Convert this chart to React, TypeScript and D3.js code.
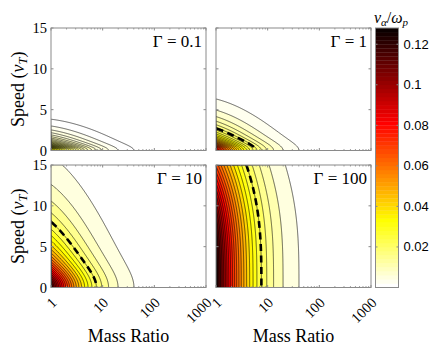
import * as d3 from "d3";
import { useMemo } from "react";

const W = 436;
const H = 347;

// panels, left to right, top to bottom
const gammaLabels = ["0.1", "1", "10", "100"];
const peakRate = [0.035, 0.085, 0.118, 0.128];
const tailSlope = [0.84, 0.51, 0.2, 0.078];
const coreWidth = [0.5, 0.8, 2.0, 20];
const coreOrder = [1, 1, 1, 2];
const massSpread = [0.1, 0.08, 0.08, 0];
const dashFraction = [null, 0.25, 0.2, 0.2];
const massOffset = 0.64;
const levelCount = 24;

const massTicks = [1, 10, 100, 1000];
const speedTicks = [0, 5, 10, 15];
const colorTicks = [0.02, 0.04, 0.06, 0.08, 0.1, 0.12];
const colorMax = 0.128;

const colX = [51, 216];
const rowY = [28, 165];
const pw = 155;
const ph = 122.5;
const nx = 311;
const ny = 246;

const serif = "Liberation Serif, DejaVu Serif, Times New Roman, serif";
const sans = "Liberation Sans, DejaVu Sans, Arial, sans-serif";

// flipped MATLAB hot(64)
function hotColor(value: number) {
  const n = 64;
  const k = Math.max(0, Math.min(n - 1, Math.floor((value / colorMax) * n)));
  const i = n - k;
  const r = Math.min(1, i / 24);
  const g = Math.max(0, Math.min(1, (i - 24) / 24));
  const b = Math.max(0, Math.min(1, (i - 48) / 16));
  return d3.rgb(r * 255, g * 255, b * 255).formatHex();
}

function rate(p: number, u: number, v: number) {
  const m = Math.pow(10, u);
  const x = v * Math.pow(m, -massSpread[p]);
  const g = tailSlope[p] * x * Math.tanh(Math.pow(x / coreWidth[p], coreOrder[p]));
  return (peakRate[p] * (1 + massOffset)) / (m + massOffset) * Math.exp(-g);
}

function interiorLines(rings: number[][][]) {
  const onEdge = (q: number[]) => q[0] <= 0 || q[0] >= nx || q[1] <= 0 || q[1] >= ny;
  const lines: number[][][] = [];
  for (const ring of rings) {
    let cur: number[][] | null = null;
    for (let i = 1; i < ring.length; i++) {
      const a = ring[i - 1];
      const b = ring[i];
      if (onEdge(a) && onEdge(b)) {
        if (cur) lines.push(cur);
        cur = null;
        continue;
      }
      if (!cur) cur = [a];
      cur.push(b);
    }
    if (cur) lines.push(cur);
  }
  return lines;
}

function Panel({ idx }: { idx: number }) {
  const col = idx % 2;
  const row = Math.floor(idx / 2);
  const x0 = colX[col];
  const y0 = rowY[row];
  const uMax = Math.log10(massTicks[massTicks.length - 1]);
  const vMax = speedTicks[speedTicks.length - 1];

  const gx = d3.scaleLinear().domain([0.5, nx - 0.5]).range([x0, x0 + pw]);
  const gy = d3.scaleLinear().domain([0.5, ny - 0.5]).range([y0 + ph, y0]);
  const xLog = d3.scaleLog().domain([1, 1000]).range([x0, x0 + pw]);
  const yLin = d3.scaleLinear().domain([0, vMax]).range([y0 + ph, y0]);

  const chart = useMemo(() => {
    const values = new Array(nx * ny);
    for (let j = 0; j < ny; j++) {
      for (let i = 0; i < nx; i++) {
        values[j * nx + i] = rate(idx, (uMax * i) / (nx - 1), (vMax * j) / (ny - 1));
      }
    }
    const zmax = d3.max(values) as number;
    const levels = d3.range(1, levelCount + 1).map((k) => (zmax * k) / (levelCount + 1));
    const gen = d3.contours().size([nx, ny]).thresholds(levels);
    const polys = gen(values);
    const proj = d3.geoTransform({
      point(x: number, y: number) {
        this.stream.point(gx(x), gy(y));
      },
    });
    const path = d3.geoPath(proj);
    const bands = polys.map((c) => ({ d: path(c) || "", color: hotColor(c.value) }));
    let dash: string[] = [];
    const frac = dashFraction[idx];
    if (frac !== null) {
      const c = gen.contour(values, zmax * frac);
      const rings = c.coordinates.flat() as number[][][];
      const line = d3
        .line<number[]>()
        .x((q) => gx(q[0]))
        .y((q) => gy(q[1]));
      dash = interiorLines(rings).map((l) => line(l) || "");
    }
    return { bands, dash };
  }, [idx]);

  const minor: number[] = [];
  for (const d of [1, 10, 100]) for (let k = 2; k < 10; k++) minor.push(d * k);
  const clipId = `clip${idx}`;
  const frame = "#8a8a8a";

  return (
    <g>
      <clipPath id={clipId}>
        <rect x={x0} y={y0} width={pw} height={ph} />
      </clipPath>
      <g clipPath={`url(#${clipId})`}>
        <rect x={x0} y={y0} width={pw} height={ph} fill={hotColor(0)} />
        {chart.bands.map((b, i) => (
          <path key={"f" + i} d={b.d} fill={b.color} stroke="none" />
        ))}
        {chart.bands.map((b, i) => (
          <path key={"s" + i} d={b.d} fill="none" stroke="#000" strokeWidth={0.6} />
        ))}
        {chart.dash.map((d, i) => (
          <path key={"d" + i} d={d} fill="none" stroke="#000" strokeWidth={2.6} strokeDasharray="7,4.5" />
        ))}
      </g>
      {massTicks.map((t) => (
        <g key={"mx" + t}>
          <line x1={xLog(t)} x2={xLog(t)} y1={y0 + ph} y2={y0 + ph - 2.5} stroke={frame} />
          <line x1={xLog(t)} x2={xLog(t)} y1={y0} y2={y0 + 2.5} stroke={frame} />
        </g>
      ))}
      {minor.map((t) => (
        <g key={"mn" + t}>
          <line x1={xLog(t)} x2={xLog(t)} y1={y0 + ph} y2={y0 + ph - 1.5} stroke={frame} strokeWidth={0.8} />
          <line x1={xLog(t)} x2={xLog(t)} y1={y0} y2={y0 + 1.5} stroke={frame} strokeWidth={0.8} />
        </g>
      ))}
      {speedTicks.map((t) => (
        <g key={"y" + t}>
          <line x1={x0} x2={x0 + 2.5} y1={yLin(t)} y2={yLin(t)} stroke={frame} />
          <line x1={x0 + pw} x2={x0 + pw - 2.5} y1={yLin(t)} y2={yLin(t)} stroke={frame} />
        </g>
      ))}
      <rect x={x0} y={y0} width={pw} height={ph} fill="none" stroke={frame} strokeWidth={1} />
      <text x={x0 + pw - 4} y={y0 + 18.5} textAnchor="end" style={{ fontFamily: serif }} fontSize={17}>
        Γ = {gammaLabels[idx]}
      </text>
      {col === 0 &&
        speedTicks.map((t) => (
          <text
            key={"yl" + t}
            x={x0 - 4}
            y={yLin(t)}
            textAnchor="end"
            dominantBaseline="central"
            style={{ fontFamily: serif }}
            fontSize={14.5}
          >
            {t}
          </text>
        ))}
      {col === 0 && (
        <text
          transform={`translate(24, ${y0 + ph / 2}) rotate(-90)`}
          textAnchor="middle"
          style={{ fontFamily: serif }}
          fontSize={18}
        >
          Speed (<tspan fontStyle="italic">v</tspan>
          <tspan dy={3} fontSize={12.5} fontStyle="italic">T</tspan>
          <tspan dy={-3}>)</tspan>
        </text>
      )}
      {row === 1 &&
        massTicks.map((t) => (
          <text
            key={"xl" + t}
            transform={`translate(${xLog(t) + 3}, ${y0 + ph + 12.5}) rotate(-45)`}
            textAnchor="end"
            dominantBaseline="central"
            style={{ fontFamily: serif }}
            fontSize={14.5}
          >
            {t}
          </text>
        ))}
      {row === 1 && (
        <text x={x0 + pw / 2} y={341.5} textAnchor="middle" style={{ fontFamily: serif }} fontSize={18}>
          Mass Ratio
        </text>
      )}
    </g>
  );
}

function ColorBar() {
  const x0 = 375.5;
  const w = 23;
  const top = 28;
  const bottom = 287.5;
  const y = d3.scaleLinear().domain([0, colorMax]).range([bottom, top]);
  const steps = d3.range(64);
  const frame = "#8a8a8a";
  return (
    <g>
      {steps.map((k) => (
        <rect
          key={k}
          x={x0}
          y={y(((k + 1) * colorMax) / 64)}
          width={w}
          height={y((k * colorMax) / 64) - y(((k + 1) * colorMax) / 64) + 0.3}
          fill={hotColor(((k + 0.5) * colorMax) / 64)}
        />
      ))}
      <rect x={x0} y={top} width={w} height={bottom - top} fill="none" stroke={frame} />
      {colorTicks.map((t) => (
        <g key={t}>
          <line x1={x0 + w} x2={x0 + w - 2} y1={y(t)} y2={y(t)} stroke={frame} />
          <line x1={x0} x2={x0 + 2} y1={y(t)} y2={y(t)} stroke={frame} />
          <text x={x0 + w + 5} y={y(t)} dominantBaseline="central" style={{ fontFamily: sans }} fontSize={13}>
            {t}
          </text>
        </g>
      ))}
      <text x={x0 + w / 2 + 4} y={23} textAnchor="middle" style={{ fontFamily: serif }} fontSize={16}>
        <tspan fontStyle="italic">ν</tspan>
        <tspan dy={3} fontSize={11} fontStyle="italic">α</tspan>
        <tspan dy={-3}>/</tspan>
        <tspan fontStyle="italic">ω</tspan>
        <tspan dy={3} fontSize={11} fontStyle="italic">p</tspan>
      </text>
    </g>
  );
}

export default function App() {
  return (
    <svg
      width={W}
      height={H}
      viewBox={`0 0 ${W} ${H}`}
      style={{ position: "absolute", left: 0, top: 0, background: "#fff" }}
    >
      {[0, 1, 2, 3].map((i) => (
        <Panel key={i} idx={i} />
      ))}
      <ColorBar />
    </svg>
  );
}
